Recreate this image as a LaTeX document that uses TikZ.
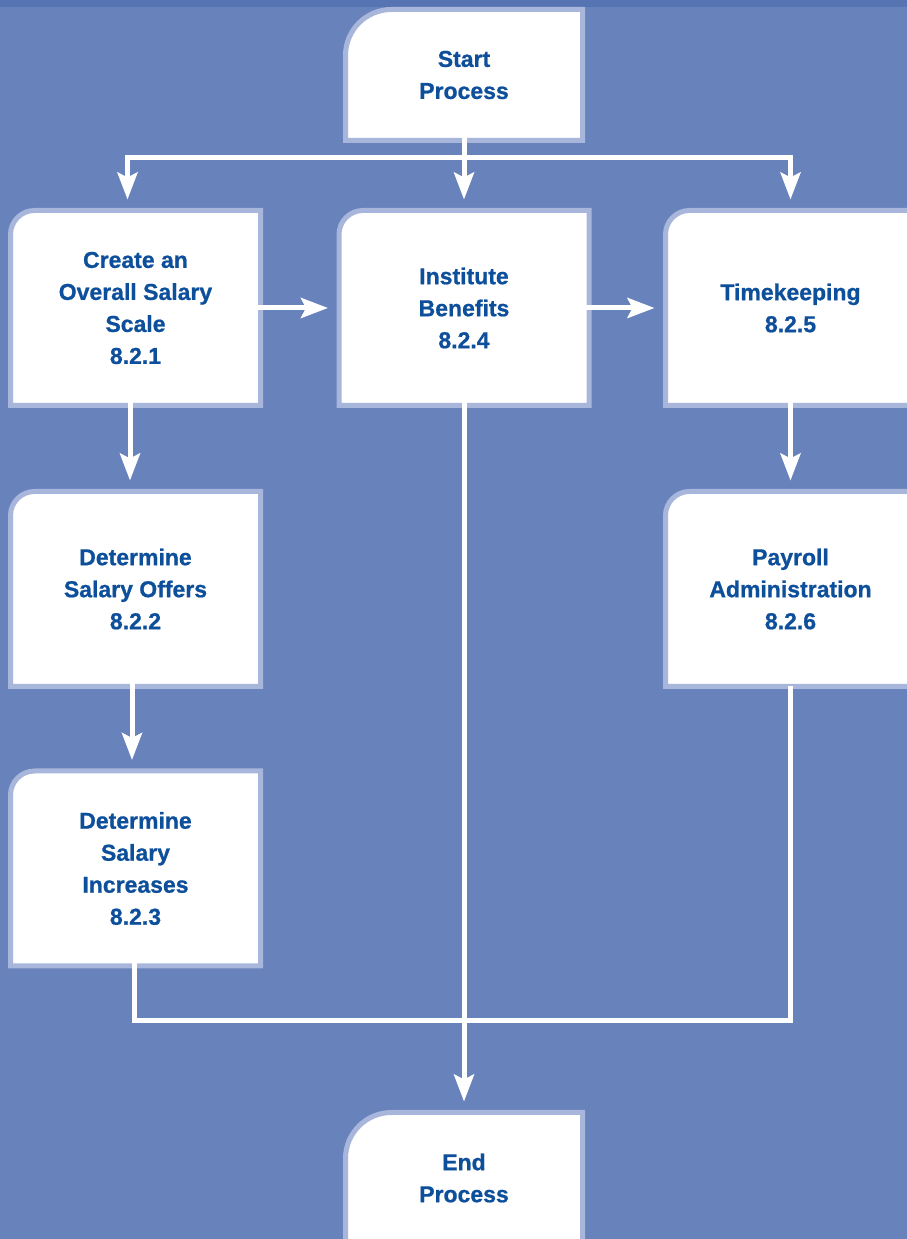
\documentclass[tikz,border=0pt]{standalone}
\usepackage{fontspec}
\setmainfont{Liberation Sans}[BoldFeatures={FakeBold=0.8}]
\usepackage{tikz}
\usetikzlibrary{arrows.meta, backgrounds}

\definecolor{bgblue}{HTML}{6882BC}
\definecolor{topblue}{HTML}{5673B2}
\definecolor{edgeblue}{HTML}{A9B6DC}
\definecolor{textblue}{HTML}{0D4F9B}

\begin{document}
\begin{tikzpicture}[x=1pt, y=1pt]
\tikzstyle{stepbox}=[inner sep=0pt, outer sep=0pt, align=center, text=textblue,
  font=\fontsize{23}{32}\selectfont\bfseries, minimum width=250pt, minimum height=195pt]
\tikzstyle{termbox}=[stepbox, minimum width=237pt, minimum height=131pt]
\tikzstyle{boxedge}=[draw=edgeblue, fill=white, line width=5pt]
\tikzstyle{flow}=[draw=white, line width=5pt, shorten <=-3pt]
\tikzstyle{tip}=[-{Stealth[length=27pt, width=20pt, inset=5pt]}, shorten >=11pt]

\useasboundingbox (0,0) rectangle (907,1239);
\clip (0,0) rectangle (907,1239);
\begin{scope}[on background layer]
\fill[bgblue] (0,0) rectangle (907,1239);
\fill[topblue] (0,1232) rectangle (907,1239);
\end{scope}

\node[termbox] (start) at (464,1164) {Start\\Process};
\node[stepbox] (create) at (135.5,931) {Create an\\Overall Salary\\Scale\\8.2.1};
\node[stepbox] (institute) at (464,931) {Institute\\Benefits\\8.2.4};
\node[stepbox] (timekeeping) at (790.5,931) {Timekeeping\\8.2.5};
\node[stepbox] (offers) at (135.5,650) {Determine\\Salary Offers\\8.2.2};
\node[stepbox] (payroll) at (790.5,650) {Payroll\\Administration\\8.2.6};
\node[stepbox] (increases) at (135.5,370.5) {Determine\\Salary\\Increases\\8.2.3};
\node[termbox] (end) at (464,61) {End\\Process};

% box outlines, only the top left corner is rounded
\begin{scope}[on background layer]
\foreach \n/\r in {start/46,end/46,create/24,institute/24,timekeeping/24,offers/24,payroll/24,increases/24}
  \path[boxedge] (\n.south west) -- ([yshift=-\r pt]\n.north west)
    arc[start angle=180, end angle=90, radius=\r pt] -- (\n.north east)
    -- (\n.south east) -- cycle;
\end{scope}

\coordinate (split) at (464,1081);
\coordinate (merge) at (464,218);

\draw[flow] (start.south) -- (split);
\draw[flow, tip] (split) -| ([xshift=-8pt]create.north);
\draw[flow, tip] (split) -- (institute.north);
\draw[flow, tip] (split) -| (timekeeping.north);

\draw[flow, tip] (create.east) -- (institute.west);
\draw[flow, tip] (institute.east) -- (timekeeping.west);

\draw[flow, tip] ([xshift=-5.5pt]create.south) -- ([xshift=-5.5pt]offers.north);
\draw[flow, tip] ([xshift=-3.5pt]offers.south) -- ([xshift=-3.5pt]increases.north);
\draw[flow, tip] (timekeeping.south) -- (payroll.north);

\draw[flow] ([xshift=-1.5pt]increases.south) |- (merge) -| (payroll.south);
\draw[flow, tip] (institute.south) -- (end.north);

\end{tikzpicture}
\end{document}
